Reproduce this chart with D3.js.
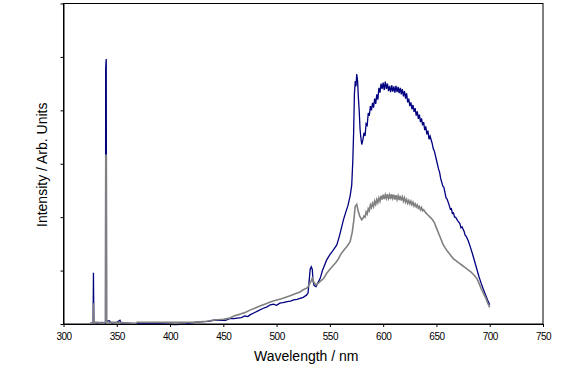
<!DOCTYPE html>
<html>
<head>
<meta charset="utf-8">
<script src="https://cdn.jsdelivr.net/npm/d3@7"></script>
<style>
  body { margin: 0; background: #fff; }
  svg text { font-family: "Liberation Sans", Arial, sans-serif; }
</style>
</head>
<body>
<svg id="chart" width="576" height="371"></svg>
<script>
// x ticks (nm) and y tick positions (arbitrary units, labels hidden)
const xTicks = [300, 350, 400, 450, 500, 550, 600, 650, 700, 750];
const yTicks = [0, 1, 2, 3, 4, 5, 6];

// [wavelength nm, intensity]
const blueSeries = [
  [325, 0.01], [327.8, 0.02], [328.1, 0.96], [328.5, 0.03], [332, 0.02], [336, 0.03], [339.4, 0.02],
  [339.6, 4.8], [340.1, 4.96], [340.4, 0.05], [343, 0.06], [345, 0.02], [350, 0.03], [353, 0.07],
  [354, 0.02], [365, 0.01], [380, 0.01], [395, 0.0], [405, -0.01], [415, 0.0], [420, 0.02],
  [428, 0.04], [436, 0.05], [441, 0.07], [447, 0.075], [452, 0.07], [456, 0.1], [460, 0.1],
  [463, 0.11], [467, 0.12], [470, 0.15], [473, 0.14], [475, 0.17], [479, 0.21], [483, 0.25],
  [487, 0.29], [491, 0.32], [494, 0.36], [497, 0.37], [500, 0.35], [503, 0.39], [506, 0.4],
  [510, 0.42], [513, 0.43], [516, 0.45], [519, 0.46], [522, 0.48], [525, 0.5], [528, 0.54],
  [529.5, 0.58], [530.5, 0.8], [531.5, 1.02], [532.5, 1.07], [533.5, 1.02], [534.2, 0.8],
  [535.2, 0.72], [537, 0.7], [539, 0.78], [541, 0.86], [543, 1.0], [545, 1.1], [547, 1.2],
  [550, 1.3], [553, 1.38], [556.5, 1.48], [559, 1.65], [562.7, 1.95], [565, 2.1], [567, 2.22],
  [569, 2.4], [570.5, 2.6], [571.5, 3.05], [572.3, 3.6], [573, 4.3], [573.8, 4.55], [574.5, 4.45],
  [575.2, 4.68], [576, 4.55], [576.7, 4.25], [577.5, 4.0], [578.3, 3.65], [579, 3.5], [579.9, 3.36],
  [581, 3.45], [582, 3.58], [583, 3.52], [584, 3.75], [585, 3.72], [586, 3.95], [587, 3.9],
  [588, 4.08], [589, 4.0], [590, 4.14], [591, 4.05], [592, 4.22], [593, 4.12], [594, 4.3],
  [595, 4.2], [596, 4.42], [597, 4.33], [598, 4.5], [599, 4.4], [600, 4.52], [601, 4.38],
  [602, 4.54], [603, 4.4], [604, 4.5], [605, 4.36], [606, 4.46], [607, 4.34], [608, 4.47],
  [609, 4.35], [610, 4.45], [611, 4.33], [612, 4.46], [613, 4.34], [614, 4.44], [615, 4.32],
  [616, 4.42], [617, 4.3], [618, 4.4], [619, 4.26], [620, 4.36], [621, 4.22], [622, 4.32],
  [623, 4.15], [624, 4.22], [625, 4.08], [626, 4.15], [627, 4.02], [628, 4.1], [629, 3.97],
  [630, 4.04], [631, 3.9], [632, 3.98], [633, 3.84], [634, 3.92], [635, 3.78], [636, 3.85],
  [637, 3.72], [638, 3.78], [639, 3.63], [640, 3.7], [641, 3.55], [642, 3.62], [643, 3.46],
  [644, 3.52], [646, 3.38], [647, 3.28], [648, 3.24], [650, 3.07], [652, 2.9], [653, 2.84],
  [654, 2.72], [656, 2.58], [657, 2.56], [658, 2.46], [659, 2.36], [660, 2.34], [662, 2.22],
  [663, 2.15], [664, 2.16], [665, 2.07], [666, 2.08], [667, 2.0], [668, 2.0], [670, 1.93],
  [672, 1.88], [673, 1.8], [674, 1.82], [676, 1.73], [677, 1.66], [678, 1.64], [680, 1.55],
  [682, 1.43], [684, 1.3], [686, 1.16], [688, 1.02], [690, 0.88], [692, 0.76], [694, 0.65],
  [696, 0.55], [698, 0.45], [700, 0.36]
];

const graySeries = [
  [325, 0.01], [327.9, 0.02], [328.2, 0.39], [328.5, 0.03], [332, 0.03], [336, 0.02], [339.5, 0.03],
  [339.7, 3.16], [340.2, 3.16], [340.4, 0.04], [345, 0.03], [352, 0.03], [360, 0.02], [368, 0.01],
  [369, 0.03], [380, 0.03], [390, 0.03], [400, 0.03], [410, 0.03], [420, 0.03], [428, 0.04],
  [434, 0.05], [440, 0.07], [445, 0.08], [450, 0.09], [456, 0.11], [460, 0.15], [465, 0.18],
  [468, 0.2], [471, 0.22], [475, 0.26], [480, 0.3], [485, 0.34], [490, 0.38], [494, 0.41],
  [497, 0.43], [502, 0.46], [506, 0.48], [510, 0.51], [514, 0.54], [518, 0.57], [522, 0.6],
  [525, 0.64], [529, 0.68], [532, 0.79], [533.5, 0.86], [535, 0.78], [537, 0.73], [539, 0.76],
  [541, 0.8], [544, 0.85], [547, 0.95], [551, 1.05], [555.6, 1.15], [558, 1.22], [560, 1.3],
  [563, 1.38], [566, 1.45], [569, 1.54], [571, 1.72], [572.5, 1.95], [573.7, 2.2], [575.2, 2.24],
  [576.5, 2.12], [578, 2.02], [579.9, 1.95], [581, 1.98], [582, 2.02], [583, 2.0], [584, 2.1],
  [585, 2.06], [586, 2.16], [587, 2.12], [588, 2.23], [589, 2.18], [590, 2.26], [591, 2.2],
  [592, 2.3], [593, 2.24], [594, 2.33], [595, 2.27], [596, 2.36], [597, 2.3], [598, 2.4],
  [599, 2.33], [600, 2.42], [601, 2.34], [602, 2.42], [603, 2.35], [604, 2.43], [605, 2.35],
  [606, 2.42], [607, 2.34], [608, 2.43], [609, 2.35], [610, 2.42], [611, 2.33], [612, 2.41],
  [613, 2.33], [614, 2.4], [615, 2.32], [616, 2.4], [617, 2.31], [618, 2.38], [619, 2.3],
  [620, 2.36], [621, 2.28], [622, 2.33], [623, 2.26], [624, 2.31], [625, 2.25], [626, 2.3],
  [627, 2.23], [628, 2.28], [629, 2.21], [630, 2.25], [631, 2.19], [632, 2.23], [633, 2.17],
  [634, 2.2], [635, 2.14], [636, 2.18], [637, 2.12], [638, 2.14], [640, 2.08], [642, 2.04],
  [644, 2.0], [646, 1.96], [648, 1.9], [650, 1.8], [652, 1.7], [654, 1.6], [656, 1.5],
  [658, 1.43], [660, 1.37], [662, 1.32], [664, 1.27], [666, 1.22], [668, 1.19], [670, 1.16],
  [672, 1.13], [674, 1.1], [676, 1.07], [678, 1.04], [680, 1.01], [682, 0.98], [684, 0.94],
  [686, 0.9], [688, 0.85], [690, 0.76], [692, 0.66], [694, 0.58], [696, 0.5], [698, 0.4],
  [700, 0.31]
];

const margin = { top: 3.5, right: 33, bottom: 47, left: 63.5 };
const width = 576, height = 371;

const svg = d3.select('#chart');

const x = d3.scaleLinear().domain([300, 750]).range([margin.left, width - margin.right]);
const y = d3.scaleLinear().domain([0, 6]).range([height - margin.bottom, margin.top]);

// frame
svg.append('rect')
  .attr('x', margin.left)
  .attr('y', margin.top)
  .attr('width', width - margin.right - margin.left)
  .attr('height', height - margin.bottom - margin.top)
  .attr('fill', 'none')
  .attr('stroke', '#000')
  .attr('stroke-width', 1);

const line = d3.line()
  .x((d) => x(d[0]))
  .y((d) => y(d[1]));

const plot = svg.append('g');

plot.append('path')
  .datum(blueSeries)
  .attr('d', line)
  .attr('fill', 'none')
  .attr('stroke', '#000080')
  .attr('stroke-width', 1.3)
  .attr('stroke-linejoin', 'miter');

plot.append('path')
  .datum(graySeries)
  .attr('d', line)
  .attr('fill', 'none')
  .attr('stroke', '#808080')
  .attr('stroke-width', 1.6);

// axes
const xAxis = d3.axisBottom(x)
  .tickValues(xTicks)
  .tickSize(3)
  .tickSizeOuter(0)
  .tickPadding(6);

const gx = svg.append('g')
  .attr('transform', `translate(0,${height - margin.bottom})`)
  .call(xAxis);
gx.select('.domain').attr('stroke', '#000');
gx.selectAll('text')
  .attr('font-size', 10)
  .attr('fill', '#000')
  .style('letter-spacing', '-0.5px');

const yAxis = d3.axisLeft(y)
  .tickValues(yTicks)
  .tickSize(3)
  .tickSizeOuter(0)
  .tickFormat('');

svg.append('g')
  .attr('transform', `translate(${margin.left},0)`)
  .call(yAxis);

// axis titles
svg.append('text')
  .attr('x', (margin.left + width - margin.right) / 2 + 3)
  .attr('y', 361)
  .attr('text-anchor', 'middle')
  .attr('font-size', 14)
  .text('Wavelength / nm');

svg.append('text')
  .attr('transform', `translate(47,${(margin.top + height - margin.bottom) / 2 + 1}) rotate(-90)`)
  .attr('text-anchor', 'middle')
  .attr('font-size', 14)
  .text('Intensity / Arb. Units');
</script>
</body>
</html>
